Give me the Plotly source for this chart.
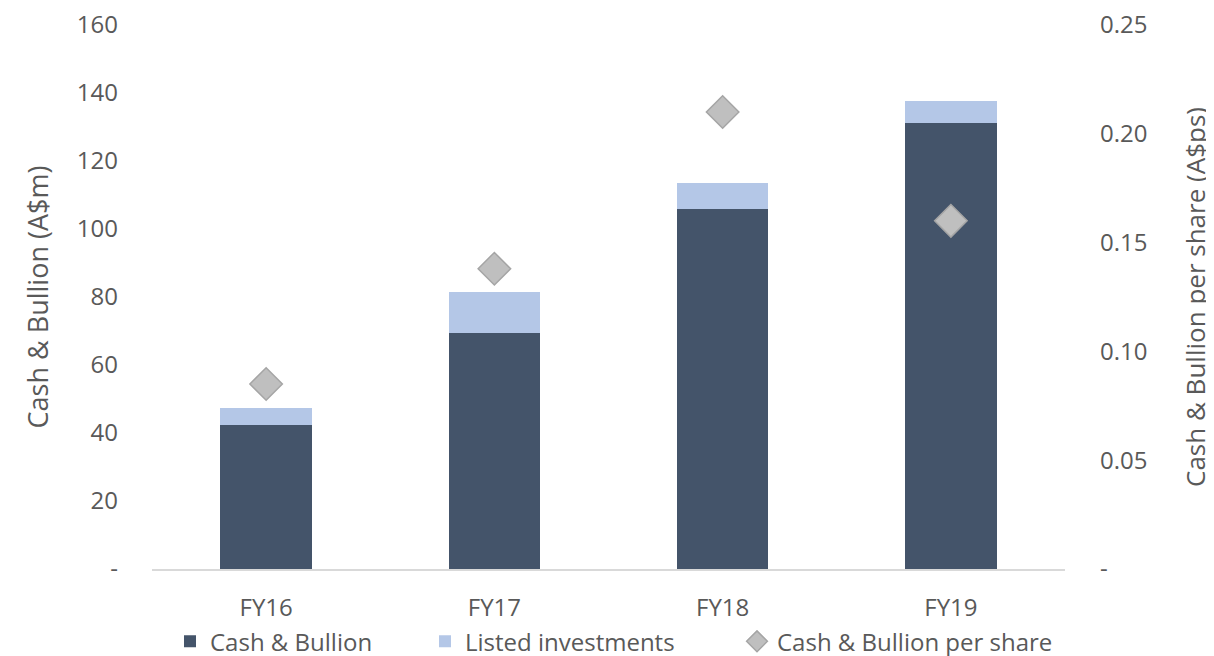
import plotly.graph_objects as go

# Data
years = ["FY16", "FY17", "FY18", "FY19"]
cash_bullion = [42.4, 69.4, 105.9, 131.2]
listed_investments = [5.0, 12.1, 7.6, 6.4]
per_share = [0.085, 0.138, 0.210, 0.160]

left_ticks = [0, 20, 40, 60, 80, 100, 120, 140, 160]
left_labels = ["-", "20", "40", "60", "80", "100", "120", "140", "160"]
right_ticks = [0, 0.05, 0.10, 0.15, 0.20, 0.25]
right_labels = ["-", "0.05", "0.10", "0.15", "0.20", "0.25"]

font_family = "Open Sans"
text_color = "#595959"

fig = go.Figure()
fig.add_trace(go.Bar(x=years, y=cash_bullion, name="Cash & Bullion", legend="legend",
                     showlegend=True,
                     marker=dict(color="#44546A", line=dict(width=0)), width=0.4))
fig.add_trace(go.Bar(x=years, y=listed_investments, name="Listed investments", legend="legend2",
                     showlegend=True,
                     marker=dict(color="#B4C7E7", line=dict(width=0)), width=0.4))
fig.add_trace(go.Scatter(x=years, y=per_share, name="Cash & Bullion per share", yaxis="y2",
                         legend="legend3", mode="markers", showlegend=True,
                         marker=dict(symbol="diamond", size=25, color="#BFBFBF",
                                     line=dict(color="#A5A5A5", width=1.5))))

# one legend box per entry so the items can sit where the original has them
legend_style = dict(orientation="h", xref="container", yref="container", y=0.034,
                    yanchor="middle", xanchor="left", font=dict(size=24), itemwidth=30,
                    bgcolor="rgba(0,0,0,0)", visible=True)

fig.update_layout(
    barmode="stack",
    width=1214, height=656,
    showlegend=True,
    margin=dict(l=144, r=157, t=17, b=95, autoexpand=False),
    plot_bgcolor="white", paper_bgcolor="white",
    font=dict(family=font_family, size=24, color=text_color),
    xaxis=dict(showgrid=False, showline=True, linecolor="#D9D9D9", linewidth=1.5,
               ticks="", tickfont=dict(size=24), ticklabelstandoff=16),
    yaxis=dict(range=[0, 160.001], tickvals=left_ticks, ticktext=left_labels,
               showgrid=False, zeroline=False, ticks="", ticklabelstandoff=33,
               ticklabeloverflow="allow",
               title=dict(text="Cash & Bullion (A$m)", font=dict(size=27), standoff=20)),
    yaxis2=dict(range=[0, 0.250001], tickvals=right_ticks, ticktext=right_labels,
                overlaying="y", side="right", showgrid=False, zeroline=False, ticks="",
                ticklabelstandoff=34, ticklabeloverflow="allow",
                title=dict(text="Cash & Bullion per share (A$ps)", font=dict(size=26), standoff=40)),
    legend=dict(legend_style, x=162 / 1214),
    legend2=dict(legend_style, x=417 / 1214),
    legend3=dict(legend_style, x=729 / 1214),
)

fig.write_html("out.html")
